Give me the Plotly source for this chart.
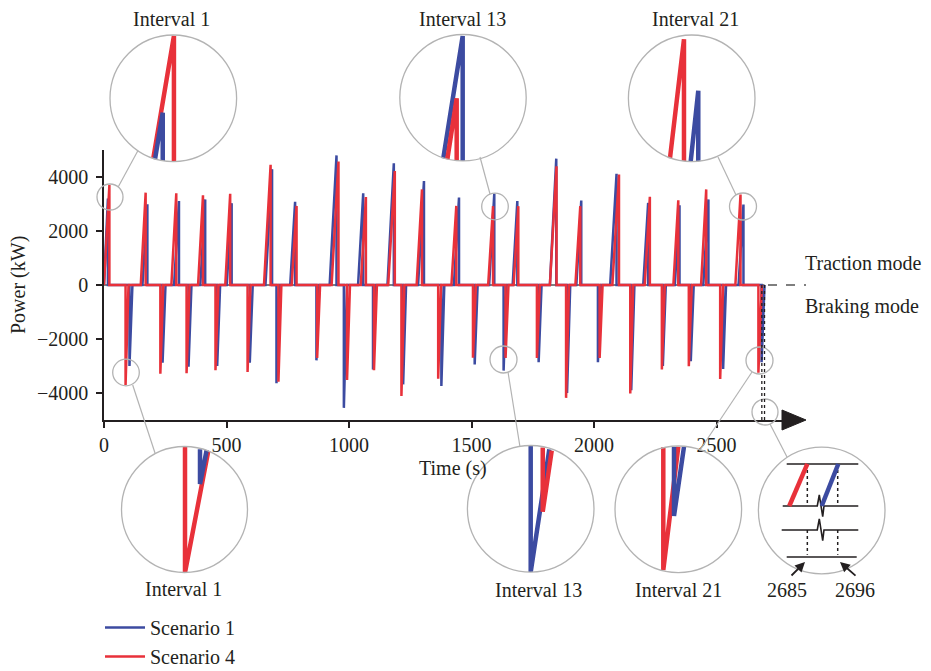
import plotly.graph_objects as go

# The page body has an 8px default margin, so the figure is drawn 8px in from the top-left corner.
OFF = 8
W, H = 931 - OFF, 671 - OFF
FONT = "Liberation Serif"
TXT = "#231f20"
BLUE = "#3c4ba1"
RED = "#e8313a"
GRAY = "#b3b3b3"


def fx(px):
    return (px - OFF) / W


def fy(py):
    return 1 - (py - OFF) / H


# ---------------- main series ----------------
x_ticks = [0, 500, 1000, 1500, 2000, 2500]
y_ticks = [-4000, -2000, 0, 2000, 4000]

# Scenario 1 (blue)
s1_acc_start = [0, 157, 286, 393, 501, 659, 760, 921, 1037, 1157, 1282, 1428, 1572, 1668, 1820, 1928, 2066, 2201, 2330, 2446, 2590]
s1_peak_t = [16, 177, 306, 413, 521, 686, 780, 949, 1058, 1183, 1306, 1449, 1593, 1687, 1846, 1948, 2092, 2221, 2349, 2467, 2610]
s1_peak_p = [3200, 2990, 3110, 3170, 3030, 4290, 3080, 4800, 3400, 4510, 3850, 3240, 3390, 3110, 4680, 3130, 4120, 3040, 2950, 3170, 2980]
s1_brake_t = [104, 239, 345, 462, 595, 704, 867, 979, 1098, 1221, 1377, 1513, 1631, 1774, 1890, 2016, 2152, 2281, 2395, 2527, 2684]
s1_brake_p = [-3000, -2880, -3030, -3000, -2880, -3640, -2790, -4550, -3130, -3680, -3740, -2940, -3170, -2860, -4000, -2860, -3900, -3000, -2820, -3110, -2860]
s1_brake_end = [116, 251, 357, 474, 607, 716, 879, 992, 1110, 1233, 1389, 1525, 1643, 1786, 1903, 2028, 2165, 2293, 2407, 2539, 2696]

# Scenario 4 (red)
s4_acc_start = [0, 150, 275, 384, 495, 653, 766, 929, 1048, 1160, 1276, 1418, 1568, 1672, 1820, 1924, 2075, 2207, 2324, 2437, 2577]
s4_peak_t = [22, 170, 295, 404, 515, 680, 786, 957, 1069, 1187, 1298, 1438, 1588, 1691, 1847, 1944, 2102, 2228, 2344, 2458, 2598]
s4_peak_p = [3700, 3420, 3400, 3320, 3380, 4450, 2930, 4570, 3260, 4220, 3540, 2930, 2920, 2920, 4400, 2920, 4090, 3270, 3140, 3540, 3350]
s4_brake_t = [88, 230, 337, 455, 586, 712, 870, 992, 1102, 1214, 1364, 1506, 1639, 1767, 1886, 2023, 2148, 2277, 2387, 2515, 2671]
s4_brake_p = [-3700, -3285, -3270, -3160, -3220, -3580, -2700, -3520, -3160, -4110, -3470, -2690, -2700, -2700, -4180, -2700, -4020, -3130, -3010, -3480, -3250]
s4_brake_end = [100, 242, 349, 467, 598, 724, 882, 1004, 1114, 1226, 1376, 1518, 1651, 1779, 1898, 2035, 2160, 2289, 2399, 2527, 2685]

end_times = [2685, 2696]
end_labels = ["2685", "2696"]

# ---------------- zoom insets (schematic, in unit-circle coordinates) ----------------
top1_s4_x, top1_s4_y = [-0.316, 0.01, 0.01], [-0.948, 0.985, -1.0]
top1_s1_x, top1_s1_y = [-0.289, -0.167, -0.167], [-0.964, -0.227, -0.99]
top13_s1_x, top13_s1_y = [-0.312, -0.005, -0.005], [-0.959, 0.975, -1.0]
top13_s4_x, top13_s4_y = [-0.248, -0.10, -0.10], [-0.975, -0.01, -0.995]
top21_s4_x, top21_s4_y = [-0.343, -0.122, -0.122], [-0.948, 0.932, -0.99]
top21_s1_x, top21_s1_y = [-0.016, 0.104, 0.104], [-1.0, 0.12, -0.995]
bot1_s4_x, bot1_s4_y = [0.008, 0.008, 0.378], [0.997, -1.0, 0.933]
bot1_s1_x, bot1_s1_y = [0.246, 0.246, 0.352], [0.956, 0.405, 0.944]
bot13_s1_x, bot13_s1_y = [0.0, 0.0, 0.294], [0.992, -1.0, 0.94]
bot13_s4_x, bot13_s4_y = [0.19, 0.19, 0.332], [0.97, -0.045, 0.918]
bot21_s4_x, bot21_s4_y = [-0.237, -0.237, 0.0], [0.98, -0.959, 0.989]
bot21_s1_x, bot21_s1_y = [-0.068, -0.068, 0.09], [0.985, -0.106, 0.989]

brk_axis_x = [-0.553, 0.578, None,
              -0.616, -0.07, -0.038, 0.016, 0.036, 0.578, None,
              -0.632, -0.07, -0.038, 0.016, 0.036, 0.578, None,
              -0.553, 0.553]
brk_axis_y = [0.735, 0.735, None,
              0.071, 0.071, 0.245, -0.098, 0.071, 0.071, None,
              -0.308, -0.308, -0.134, -0.477, -0.308, -0.308, None,
              -0.735, -0.735]
brk_dot_x = [-0.227, -0.227, None, -0.227, -0.227, None, 0.253, 0.253, None, 0.253, 0.253]
brk_dot_y = [0.735, 0.071, None, -0.308, -0.70, None, 0.735, 0.071, None, -0.308, -0.70]
brk_s4_x, brk_s4_y = [-0.512, -0.227], [0.071, 0.735]
brk_s1_x, brk_s1_y = [0.0, 0.262], [0.071, 0.735]


def build(acc, pt, pp, bt, bp, be):
    t, p = [], []
    for i in range(len(pt)):
        t += [acc[i], pt[i], pt[i], bt[i], bt[i], be[i]]
        p += [0, pp[i], 0, 0, bp[i], 0]
    return t, p


s1_t, s1_p = build(s1_acc_start, s1_peak_t, s1_peak_p, s1_brake_t, s1_brake_p, s1_brake_end)
s4_t, s4_p = build(s4_acc_start, s4_peak_t, s4_peak_p, s4_brake_t, s4_brake_p, s4_brake_end)

fig = go.Figure()
fig.add_trace(go.Scatter(x=s1_t, y=s1_p, mode="lines", name="Scenario 1",
                         line=dict(color=BLUE, width=2.5), hoverinfo="skip"))
fig.add_trace(go.Scatter(x=s4_t, y=s4_p, mode="lines", name="Scenario 4",
                         line=dict(color=RED, width=2.5), hoverinfo="skip"))

# inset circles: (center px x, center px y, radius)
insets = [
    ("top1", 173.3, 98.3, 63.3, [(top1_s4_x, top1_s4_y, RED), (top1_s1_x, top1_s1_y, BLUE)]),
    ("top13", 463.0, 97.7, 63.2, [(top13_s1_x, top13_s1_y, BLUE), (top13_s4_x, top13_s4_y, RED)]),
    ("top21", 691.7, 98.3, 63.3, [(top21_s4_x, top21_s4_y, RED), (top21_s1_x, top21_s1_y, BLUE)]),
    ("bot1", 184.5, 509.5, 63.0, [(bot1_s4_x, bot1_s4_y, RED), (bot1_s1_x, bot1_s1_y, BLUE)]),
    ("bot13", 530.7, 508.8, 63.3, [(bot13_s1_x, bot13_s1_y, BLUE), (bot13_s4_x, bot13_s4_y, RED)]),
    ("bot21", 678.3, 509.3, 63.3, [(bot21_s4_x, bot21_s4_y, RED), (bot21_s1_x, bot21_s1_y, BLUE)]),
    ("brk", 821.7, 510.5, 63.3, []),
]

layout_axes = {}
shapes = []
for k, (nm, cx, cy, r, lines) in enumerate(insets, start=2):
    layout_axes[f"xaxis{k}"] = dict(domain=[fx(cx - r), fx(cx + r)], range=[-1, 1], visible=False,
                                    anchor=f"y{k}", fixedrange=True, automargin=False)
    layout_axes[f"yaxis{k}"] = dict(domain=[fy(cy + r), fy(cy - r)], range=[-1, 1], visible=False,
                                    anchor=f"x{k}", fixedrange=True, automargin=False)
    shapes.append(dict(type="circle", xref="paper", yref="paper",
                       x0=fx(cx - r), x1=fx(cx + r), y0=fy(cy + r), y1=fy(cy - r),
                       line=dict(color=GRAY, width=1.3)))
    for lx, ly, col in lines:
        fig.add_trace(go.Scatter(x=lx, y=ly, mode="lines", xaxis=f"x{k}", yaxis=f"y{k}",
                                 line=dict(color=col, width=4.5), showlegend=False, hoverinfo="skip"))
    if nm == "brk":
        fig.add_trace(go.Scatter(x=brk_axis_x, y=brk_axis_y, mode="lines", xaxis=f"x{k}", yaxis=f"y{k}",
                                 line=dict(color="#231f20", width=1.6), showlegend=False, hoverinfo="skip"))
        fig.add_trace(go.Scatter(x=brk_dot_x, y=brk_dot_y, mode="lines", xaxis=f"x{k}", yaxis=f"y{k}",
                                 line=dict(color="#231f20", width=1.5, dash="dot"), showlegend=False,
                                 hoverinfo="skip"))
        fig.add_trace(go.Scatter(x=brk_s4_x, y=brk_s4_y, mode="lines", xaxis=f"x{k}", yaxis=f"y{k}",
                                 line=dict(color=RED, width=4.5), showlegend=False, hoverinfo="skip"))
        fig.add_trace(go.Scatter(x=brk_s1_x, y=brk_s1_y, mode="lines", xaxis=f"x{k}", yaxis=f"y{k}",
                                 line=dict(color=BLUE, width=4.5), showlegend=False, hoverinfo="skip"))

# small circles on the main chart
small_circles = [(110, 197, 13), (495, 206.5, 13.3), (743, 206.5, 13.5),
                 (126, 372.5, 13.3), (503.5, 359.5, 13.5), (759.5, 360.5, 13.5), (765, 412, 13)]
for cx, cy, r in small_circles:
    shapes.append(dict(type="circle", xref="paper", yref="paper",
                       x0=fx(cx - r), x1=fx(cx + r), y0=fy(cy + r), y1=fy(cy - r),
                       line=dict(color=GRAY, width=1.3)))

connectors = [((118.3, 186.7), (138.0, 150.5)), ((490, 194), (480, 157)), ((736, 195), (718, 157)),
              ((132.7, 385), (155, 453)), ((508, 372), (520, 447)), ((752, 372), (700, 450)),
              ((770, 424), (787, 457))]
for (x0, y0), (x1, y1) in connectors:
    shapes.append(dict(type="line", xref="paper", yref="paper", x0=fx(x0), y0=fy(y0), x1=fx(x1), y1=fy(y1),
                       line=dict(color=GRAY, width=1.2)))

# zero baseline and its dashed continuation
shapes.append(dict(type="line", xref="x", yref="y", x0=0, x1=2696, y0=0, y1=0,
                   line=dict(color="#555555", width=1.5), layer="below"))
shapes.append(dict(type="line", xref="paper", yref="y", x0=fx(768), x1=fx(806), y0=0, y1=0,
                   line=dict(color="#555555", width=1.5, dash="dash")))
# end-time dotted verticals
for t in end_times:
    shapes.append(dict(type="line", xref="x", yref="y", x0=t, x1=t, y0=0, y1=-5000,
                       line=dict(color="#231f20", width=1.3, dash="dot")))
# axis arrow head
shapes.append(dict(type="path", xref="paper", yref="paper",
                   path=f"M {fx(782)},{fy(410)} L {fx(806)},{fy(420)} L {fx(782)},{fy(430)} Z",
                   fillcolor="#231f20", line=dict(color="#231f20", width=1)))

tf = dict(family=FONT, size=20, color=TXT)
annotations = []


def label(text, px, py, xanchor="center", angle=0):
    annotations.append(dict(text=text, x=fx(px), y=fy(py), xref="paper", yref="paper",
                            showarrow=False, xanchor=xanchor, yanchor="middle", font=tf,
                            textangle=angle))


label("Interval 1", 171.7, 19)
label("Interval 13", 462.5, 19)
label("Interval 21", 695, 19)
label("Interval 1", 183, 589)
label("Interval 13", 538, 590)
label("Interval 21", 678, 590)
label(end_labels[0], 786.7, 590)
label(end_labels[1], 855, 590)
label("Traction mode", 803, 263, xanchor="left")
label("Braking mode", 803, 307, xanchor="left")
label("Time (s)", 453, 468)
label("Power (kW)", 18, 285, angle=-90)

for (hx, hy), (tx, ty) in [((805, 562), (790, 577)), ((840, 562), (857, 577))]:
    annotations.append(dict(text="", x=fx(hx), y=fy(hy), xref="paper", yref="paper",
                            ax=tx - hx, ay=ty - hy, axref="pixel", ayref="pixel",
                            showarrow=True, arrowhead=2, arrowsize=1.1, arrowwidth=1.8,
                            arrowcolor="#231f20"))

axis_common = dict(showline=True, linecolor="#231f20", linewidth=1.5, ticks="outside", ticklen=6,
                   tickwidth=1.5, tickcolor="#231f20", showgrid=False, zeroline=False,
                   tickfont=tf, fixedrange=True, automargin=False)

fig.update_layout(
    width=W, height=H,
    margin=dict(l=0, r=0, t=0, b=0, pad=0, autoexpand=False),
    paper_bgcolor="white", plot_bgcolor="white",
    xaxis=dict(domain=[fx(104), fx(790)], range=[0, 2800], tickvals=x_ticks, anchor="y", **axis_common),
    yaxis=dict(domain=[fy(420), fy(150)], range=[-5000, 5000], tickvals=y_ticks, anchor="x",
               ticklabelstandoff=4, **axis_common),
    showlegend=True,
    legend=dict(x=fx(100), y=fy(608), xanchor="left", yanchor="top", font=tf,
                bgcolor="rgba(0,0,0,0)", tracegroupgap=0, itemwidth=40),
    shapes=shapes,
    annotations=annotations,
    **layout_axes,
)

fig.write_html("out.html")
